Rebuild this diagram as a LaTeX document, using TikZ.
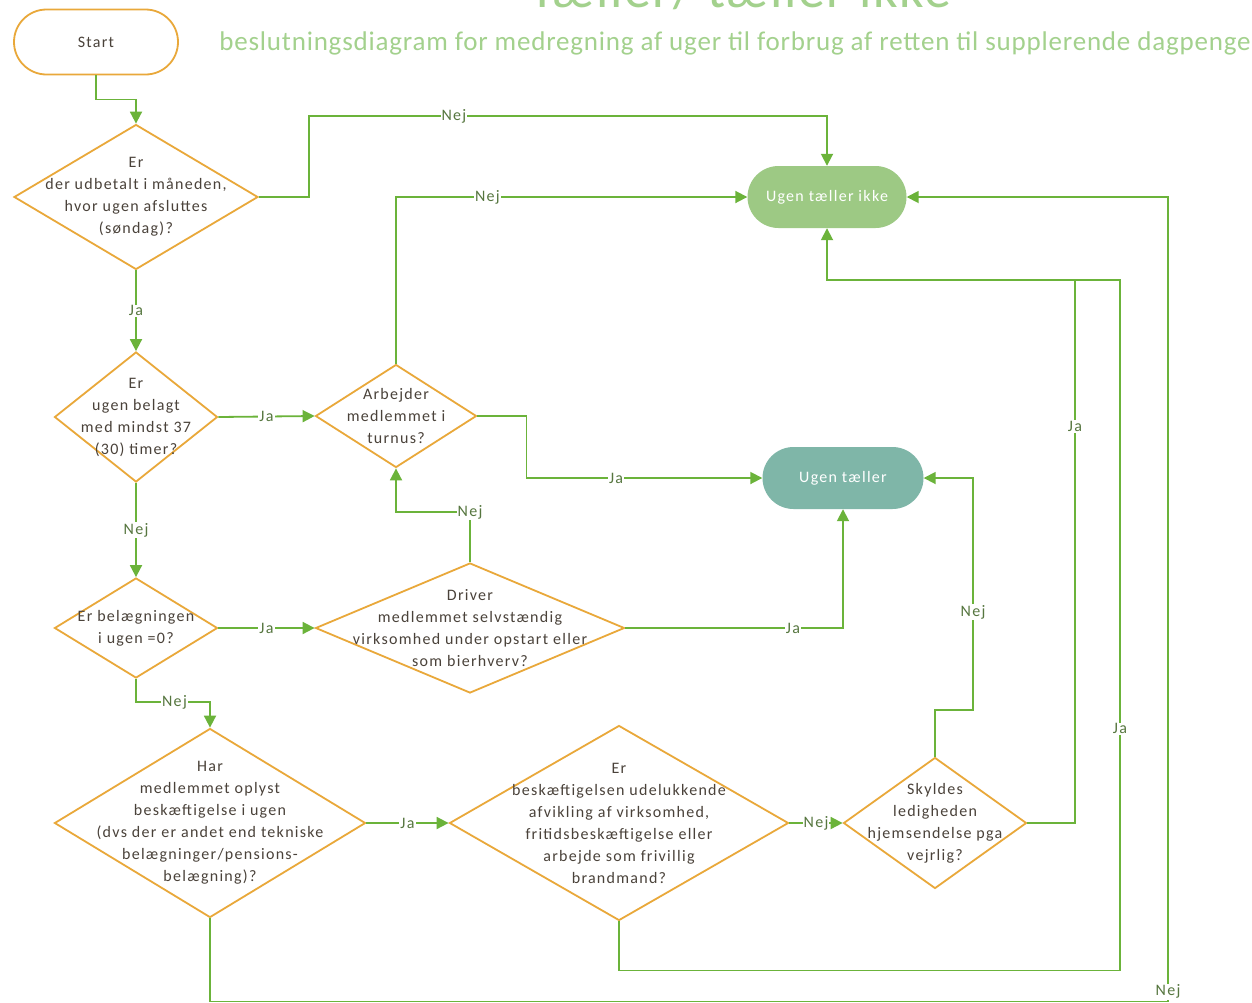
\documentclass[tikz,border=0pt]{standalone}
\usepackage{fontspec}
\setmainfont{Carlito}
\newfontfamily\qfont[LetterSpace=8]{Carlito}
\newfontfamily\headfont[LetterSpace=3]{Carlito}
\usetikzlibrary{shapes.geometric,shapes.misc,arrows.meta,positioning}

\definecolor{flowgreen}{HTML}{6BB33A}
\definecolor{floworange}{HTML}{E9A83A}
\definecolor{titlegreen}{HTML}{A3D18D}
\definecolor{ikkegreen}{HTML}{9DC984}
\definecolor{tealfill}{HTML}{7FB6A8}
\definecolor{qtext}{HTML}{4A423A}
\definecolor{lbltext}{HTML}{56763F}

\tikzset{
  decision/.style={diamond, draw=floworange, line width=1.8pt, fill=white, inner sep=0pt},
  terminal/.style={rounded rectangle, inner sep=0pt, font=\qfont\fontsize{16}{18}\selectfont},
  flow/.style={draw=flowgreen, line width=1.8pt, -{Triangle[length=12pt,width=12pt]}},
  link/.style={draw=flowgreen, line width=1.8pt},
  lbl/.style={fill=white, inner sep=1pt, text=lbltext, font=\qfont\fontsize{16}{18}\selectfont},
  qtxt/.style={align=center, text=qtext, font=\qfont\fontsize{16}{22}\selectfont}
}

\begin{document}
\begin{tikzpicture}[x=1pt,y=-1pt]
        \fill[white] (0,0) rectangle (1252,1002);
        \useasboundingbox (0,0) rectangle (1252,1002);

        % titel
        \node[anchor=base, text=titlegreen, font=\headfont\fontsize{54}{54}\selectfont] (title) at (740,7) {Tæller/ tæller ikke};
        \node[anchor=base, text=titlegreen, font=\headfont\fontsize{27}{30}\selectfont] (subtitle) at (735,50)
            {beslutningsdiagram for medregning af uger til forbrug af retten til supplerende dagpenge};

        % start og slut
        \node[terminal, draw=floworange, line width=1.8pt, minimum width=164, minimum height=65, text=qtext] (start) at (96,42) {Start};
        \node[terminal, fill=ikkegreen, minimum width=159, minimum height=62, text=white] (uti) at (827,197) {Ugen tæller ikke};
        \node[terminal, fill=tealfill, minimum width=161, minimum height=62, text=white] (ut) at (843,478) {Ugen tæller};

        % spørgsmål
        \node[decision, minimum width=244, minimum height=145,
            label={[qtxt]center:{Er\\der udbetalt i måneden,\\hvor ugen afsluttes\\(søndag)?}}] (q1) at (136,197) {};
        \node[decision, minimum width=163, minimum height=130,
            label={[qtxt]center:{Er\\ugen belagt\\med mindst 37\\(30) timer?}}] (q2) at (136,417) {};
        \node[decision, minimum width=161, minimum height=103,
            label={[qtxt]center:{Arbejder\\medlemmet i\\turnus?}}] (q3) at (396,416) {};
        \node[decision, minimum width=163, minimum height=100,
            label={[qtxt]center:{Er belægningen\\i ugen =0?}}] (q4) at (136,628) {};
        \node[decision, minimum width=309, minimum height=130,
            label={[qtxt]center:{Driver\\medlemmet selvstændig\\virksomhed under opstart eller\\som bierhverv?}}] (q5) at (470,628) {};
        \node[decision, minimum width=311, minimum height=189,
            label={[qtxt]center:{Har\\medlemmet oplyst\\beskæftigelse i ugen\\(dvs der er andet end tekniske\\belægninger/pensions-\\belægning)?}}] (q6) at (210,823) {};
        \node[decision, minimum width=339, minimum height=195,
            label={[qtxt]center:{Er\\beskæftigelsen udelukkende\\afvikling af virksomhed,\\fritidsbeskæftigelse eller\\arbejde som frivillig\\brandmand?}}] (q7) at (619,823) {};
        \node[decision, minimum width=183, minimum height=131,
            label={[qtxt]center:{Skyldes\\ledigheden\\hjemsendelse pga\\vejrlig?}}] (q8) at (935,823) {};

        % samlepunkter
        \coordinate (jn) at (1075,280);
        \coordinate (jr) at (1120,280);

        % forbindelser
        \draw[flow] (start.south) -- ++(0,24) -| (q1.north);
        \draw[flow] (q1.south) -- node[lbl]{Ja} (q2.north);
        \draw[flow] (q1.east) -- ++(50,0) -- ++(0,-81) -| node[lbl,pos=0.14]{Nej} (uti.north);
        \draw[flow] (q2.east) -- node[lbl]{Ja} (q3.west);
        \draw[flow] (q3.north) |- node[lbl,pos=0.63]{Nej} (uti.west);
        \draw[flow] (q3.east) -- ++(49,0) |- node[lbl,pos=0.69]{Ja} (ut.west);
        \draw[flow] (q2.south) -- node[lbl]{Nej} (q4.north);
        \draw[flow] (q4.east) -- node[lbl]{Ja} (q5.west);
        \draw[flow] (q5.north) -- ++(0,-50) node[lbl]{Nej} -| (q3.south);
        \draw[flow] (q5.east) -| node[lbl,pos=0.385]{Ja} (ut.south);
        \draw[flow] (q4.south) -- ++(0,23) -| node[lbl,pos=0.26]{Nej} (q6.north);
        \draw[flow] (q6.east) -- node[lbl]{Ja} (q7.west);
        \draw[flow] (q7.east) -- node[lbl]{Nej} (q8.west);
        \draw[flow] (q8.north) -- ++(0,-47) -- ++(38,0) |- node[lbl,pos=0.21]{Nej} (ut.east);
        \draw[flow] (q8.east) -| node[lbl,pos=0.865]{Ja} (jn) -| (uti.south);
        \draw[link] (q7.south) -- ++(0,49) -| node[lbl,pos=0.675]{Ja} (jr) -- (jn);
        \draw[flow] (q6.south) -- ++(0,83) -- ++(958,0) |- node[lbl,pos=0.006]{Nej} (uti.east);

    \end{tikzpicture}
\end{document}
